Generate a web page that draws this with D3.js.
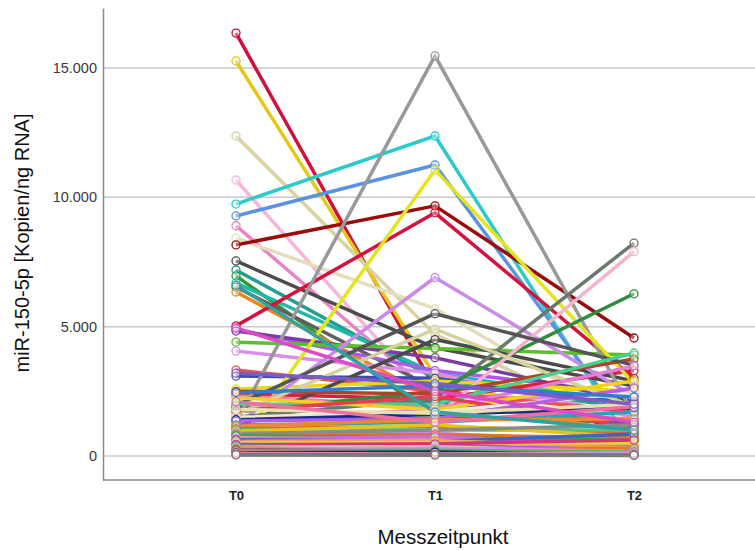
<!DOCTYPE html>
<html>
<head>
<meta charset="utf-8">
<script src="https://cdnjs.cloudflare.com/ajax/libs/d3/7.8.5/d3.min.js"></script>
<style>
  body { margin: 0; background: #fff; }
  text { font-family: "Liberation Sans", Arial, sans-serif; }
</style>
</head>
<body>
<div id="chart"></div>
<script>
// Messzeitpunkte
var categories = ["T0", "T1", "T2"];

// miR-150-5p per patient at T0, T1, T2 (Kopien/ng RNA)
var t0Values = [16350, 15270, 12370, 10670, 9740, 9280, 8900, 8420, 8160, 7540,
                7190, 6960, 6690, 6530, 6340, 5030, 4900, 4830, 4400, 4060,
                3320, 3090, 2590, 2400, 2320, 1860, 1100, 1300, 300, 1200,
                1500, 1700, 900, 2500, 1950, 1600, 2000, 1400, 2250, 1750,
                1500, 1400, 1350, 1200, 1150, 1050, 1000, 950, 900, 850,
                800, 780, 700, 650, 620, 560, 500, 450, 430, 380,
                330, 300, 260, 230, 200, 160, 120, 100, 60, 40,
                1800, 2100, 2450, 3200, 4950, 6600];
var t1Values = [2600, 3100, 4700, 2000, 12370, 11250, 2300, 5700, 9670, 4180,
                3000, 1500, 3200, 2600, 2200, 9400, 3300, 3800, 4150, 3200,
                2500, 3000, 2900, 2200, 1900, 2100, 4500, 15470, 11060, 6900,
                2200, 2500, 1500, 2400, 5500, 4900, 2000, 1800, 1800, 2300,
                1700, 1600, 1450, 1300, 1400, 1150, 1000, 1200, 880, 1000,
                820, 700, 650, 750, 560, 600, 520, 420, 470, 300,
                360, 250, 300, 180, 220, 120, 150, 80, 60, 30,
                1650, 1300, 2700, 2800, 2500, 1700];
var t2Values = [1000, 650, 1000, 1500, 300, 800, 2200, 1200, 4560, 2700,
                1800, 1300, 2000, 1200, 900, 3000, 2400, 2100, 3900, 1500,
                1700, 2000, 2500, 3300, 1400, 1200, 2900, 1600, 2800, 2300,
                8230, 6270, 7900, 3750, 3500, 1900, 3980, 3480, 2900, 1100,
                2440, 1860, 2630, 1700, 1430, 900, 1000, 730, 540, 1200,
                700, 600, 450, 390, 850, 300, 500, 230, 620, 250,
                150, 300, 180, 100, 150, 80, 60, 120, 40, 20,
                2000, 1900, 2280, 2000, 1300, 1000];

var lineColors = ["#d0103a", "#e6c619", "#d8d3a1", "#f7b6d9", "#2ccbcb", "#5b93e2", "#ec83c8", "#e3dfbc", "#9c0a0a", "#4b4b4b",
                  "#239e93", "#2f9a37", "#22b8a8", "#5f5f5f", "#e8861e", "#d4123e", "#a958f2", "#7a3c9e", "#5cbf2c", "#da90e9",
                  "#e55353", "#3c4da8", "#ead61a", "#d9213f", "#f27db2", "#6d50b3", "#4a4a4a", "#999999", "#e4e41e", "#c98be9",
                  "#6a7a6a", "#2f8d3d", "#f6b3c9", "#b0422c", "#555555", "#d6d29d", "#49cf8d", "#e27fd6", "#f2d21e", "#e63c54",
                  "#f0e8d0", "#1b2a85", "#b15ee8", "#1fa9b8", "#ef8a2a", "#e06a1f", "#4fc48a", "#e9c21d", "#d685e0", "#8b8b8b",
                  "#e07030", "#2ea84f", "#f29bc0", "#c96ae0", "#3b66c4", "#f2a046", "#e8d830", "#a855f7", "#d6337a", "#30b9b0",
                  "#c7c7c7", "#e07a2a", "#dd88f0", "#6e4a2a", "#5ab84a", "#c48a4a", "#1a237e", "#d38fe0", "#b86a2e", "#7a7a7a",
                  "#e9e2a8", "#ee6fa0", "#2b7fd1", "#7c5cc4", "#dd4ac7", "#34a0a0"];

var yTicks = [0, 5000, 10000, 15000];

var width = 755;
var height = 550;
var margin = {
    "top": 8,
    "left": 103,
    "bottom": 70,
    "right": 0
};

var de = d3.formatLocale({decimal: ",", thousands: ".", grouping: [3], currency: ["", " €"]});
var fmt = de.format(",d");

var svg = d3.select("#chart").append("svg")
    .attr("width", width)
    .attr("height", height);

var x_scale = d3.scalePoint()
    .domain(categories)
    .range([236, 634]);

var y_scale = d3.scaleLinear()
    .domain([-930, 17320])
    .range([height - margin.bottom, margin.top]);

// gridlines
svg.append("g")
    .selectAll("line")
    .data(yTicks)
    .enter()
    .append("line")
    .attr("x1", margin.left)
    .attr("x2", width)
    .attr("y1", function(d){ return y_scale(d); })
    .attr("y2", function(d){ return y_scale(d); })
    .attr("stroke", "#c9c9c9")
    .attr("stroke-width", 1.5);

// y axis
var yAxis = svg.append("g")
    .attr("transform", "translate(" + margin.left + ",0)")
    .call(d3.axisLeft(y_scale).tickValues(yTicks).tickFormat(fmt).tickSize(0).tickPadding(6));
yAxis.select(".domain").attr("stroke", "#8a8a8a").attr("stroke-width", 1.5);
yAxis.selectAll("text").attr("font-size", 14.5).attr("fill", "#3a3a3a");

// x axis
var xAxis = svg.append("g")
    .attr("transform", "translate(0," + (height - margin.bottom) + ")")
    .call(d3.axisBottom(x_scale).tickSize(0).tickPadding(11));
xAxis.select(".domain")
    .attr("d", "M" + margin.left + ",0H" + width)
    .attr("stroke", "#8a8a8a").attr("stroke-width", 1.5);
xAxis.selectAll("text").attr("font-size", 13).attr("font-weight", "bold").attr("fill", "#222");

// one row per patient
var rows = t0Values.map(function(v, i){
    return {color: lineColors[i], values: [v, t1Values[i], t2Values[i]]};
});

var line = d3.line()
    .x(function(d, i){ return x_scale(categories[i]); })
    .y(function(d){ return y_scale(d); });

var g = svg.append("g");

g.selectAll("path.series")
    .data(rows)
    .enter()
    .append("path")
    .attr("class", "series")
    .attr("d", function(d){ return line(d.values); })
    .attr("fill", "none")
    .attr("stroke", function(d){ return d.color; })
    .attr("stroke-width", 3.5)
    .attr("stroke-linejoin", "round");

rows.forEach(function(r){
    g.selectAll(null)
        .data(r.values)
        .enter()
        .append("circle")
        .attr("cx", function(d, i){ return x_scale(categories[i]); })
        .attr("cy", function(d){ return y_scale(d); })
        .attr("r", 4)
        .attr("fill", "#fff")
        .attr("fill-opacity", 0.35)
        .attr("stroke", r.color)
        .attr("stroke-width", 1.3);
});

// axis titles
svg.append("text")
    .attr("transform", "translate(29," + 243 + ") rotate(-90)")
    .attr("text-anchor", "middle")
    .attr("font-size", 20)
    .attr("fill", "#111")
    .text("miR-150-5p [Kopien/ng RNA]");

svg.append("text")
    .attr("x", 443)
    .attr("y", 544)
    .attr("text-anchor", "middle")
    .attr("font-size", 20.5)
    .attr("fill", "#111")
    .text("Messzeitpunkt");
</script>
</body>
</html>
